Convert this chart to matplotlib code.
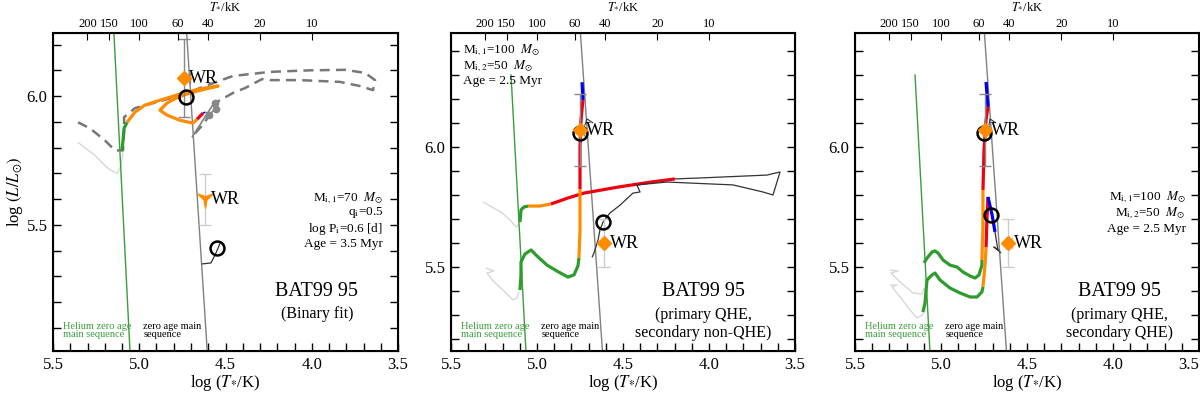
## BAT99 95 : HRD with binary evolution tracks (3 panels)
import numpy as np
import matplotlib
matplotlib.use("Agg")
import matplotlib.pyplot as plt
from matplotlib.ticker import MultipleLocator
from matplotlib.path import Path

plt.rcParams['font.family'] = ['Liberation Serif', 'DejaVu Serif']
plt.rcParams['mathtext.fontset'] = 'stix'

# ---- axes ranges / ticks
y_lims = [(5.01, 6.245), (5.15, 6.475), (5.15, 6.475)]
x_major = [5.5, 5.0, 4.5, 4.0, 3.5]
top_T = [200, 150, 100, 60, 40, 20, 10]   # kK

# ---- zero age main sequences (same in every panel)
he_zams_x = [5.151, 5.053]
he_zams_y = [6.30, 5.00]
h_zams_x = [4.750, 4.605]
h_zams_y = [6.50, 5.00]

# ================= panel 1 (binary fit)
p1_dash_x = [5.355, 5.286, 5.199, 5.141, 5.094, 5.088, 5.088, 5.025, 4.880, 4.735, 4.619, 4.457,
             4.242, 4.010, 3.807, 3.691, 3.633, 3.645, 3.720, 3.836, 4.068, 4.242, 4.288, 4.387,
             4.457, 4.561, 4.619, 4.677]
p1_dash_y = [5.898, 5.875, 5.828, 5.789, 5.789, 5.867, 5.918, 5.953, 5.980, 6.008, 6.039, 6.078,
             6.094, 6.100, 6.102, 6.090, 6.062, 6.023, 6.039, 6.055, 6.062, 6.062, 6.066, 6.031,
             6.012, 5.973, 5.898, 5.855]
p1_lgray_x = [5.355, 5.257, 5.181, 5.129, 5.106, 5.094]
p1_lgray_y = [5.820, 5.770, 5.719, 5.699, 5.730, 5.781]
p1_green_x = [5.100, 5.094, 5.088, 5.071]
p1_green_y = [5.789, 5.828, 5.875, 5.898]
p1_orange_x = [5.071, 5.025, 4.967, 4.880, 4.723, 4.619, 4.543, 4.619, 4.706, 4.775, 4.839, 4.880,
               4.839, 4.764, 4.688, 4.665]
p1_orange_y = [5.898, 5.9375, 5.965, 5.984, 6.016, 6.031, 6.039, 6.027, 6.012, 5.996, 5.973, 5.945,
               5.926, 5.906, 5.895, 5.910]
p1_red_x = [4.665, 4.648, 4.630]
p1_red_y = [5.910, 5.922, 5.934]
p1_blue_x = [4.630, 4.619]
p1_blue_y = [5.934, 5.9375]
p1_dgray_x = [4.694, 4.567, 4.555, 4.590, 4.619]
p1_dgray_y = [5.840, 5.973, 5.953, 5.930, 5.9375]
p1_dots_x = [4.563, 4.555, 4.598]
p1_dots_y = [5.975, 5.950, 5.928]
p1_hook_x = [4.638, 4.584, 4.555, 4.526]
p1_hook_y = [5.348, 5.352, 5.391, 5.4375]
p1_wr1 = (4.741, 6.070)
p1_circ1 = (4.729, 5.996)
p1_wr2 = (4.619, 5.598)
p1_circ2 = (4.549, 5.410)

# ================= panel 2 (primary QHE, secondary non-QHE)
p2_lgray1_x = [5.314, 5.273, 5.209, 5.157, 5.122, 5.099]
p2_lgray1_y = [5.771, 5.754, 5.729, 5.696, 5.667, 5.679]
p2_lgray2_x = [5.297, 5.250, 5.291, 5.256, 5.198, 5.140, 5.116, 5.105]
p2_lgray2_y = [5.496, 5.483, 5.475, 5.442, 5.404, 5.3625, 5.371, 5.396]
p2_a_green_x = [5.099, 5.093, 5.076, 5.052]
p2_a_green_y = [5.6875, 5.7375, 5.750, 5.754]
p2_a_orange_x = [5.052, 4.983, 4.919]
p2_a_orange_y = [5.754, 5.754, 5.7625]
p2_a_red_x = [4.919, 4.820, 4.727, 4.529, 4.337, 4.198]
p2_a_red_y = [5.7625, 5.7875, 5.808, 5.833, 5.854, 5.867]
p2_a_black_x = [4.198, 4.052, 3.663, 3.587, 3.610, 3.628, 3.686, 3.860, 4.244, 4.419, 4.401, 4.442,
                4.517, 4.576, 4.616, 4.634, 4.645, 4.669, 4.680]
p2_a_black_y = [5.867, 5.871, 5.883, 5.896, 5.842, 5.800, 5.8125, 5.842, 5.854, 5.842, 5.8125, 5.808,
                5.758, 5.725, 5.6875, 5.654, 5.6125, 5.558, 5.540]
p2_b_green_x = [5.099, 5.093, 5.093, 5.070, 5.035, 5.000, 4.942, 4.884, 4.820, 4.785, 4.762, 4.756]
p2_b_green_y = [5.404, 5.467, 5.521, 5.554, 5.571, 5.546, 5.508, 5.483, 5.458, 5.467, 5.504, 5.5375]
p2_b_orange_x = [4.756, 4.750, 4.750]
p2_b_orange_y = [5.5375, 5.654, 5.825]
p2_b_red_x = [4.750, 4.750, 4.744, 4.733]
p2_b_red_y = [5.825, 6.000, 6.1125, 6.196]
p2_b_blue_x = [4.733, 4.738]
p2_b_blue_y = [6.196, 6.270]
p2_tick_x = [4.721, 4.709, 4.674]
p2_tick_y = [6.092, 6.117, 6.100]
p2_wr1 = (4.750, 6.070)
p2_circ1 = (4.750, 6.058)
p2_wr2 = (4.610, 5.600)
p2_circ2 = (4.616, 5.6875)

# ================= panel 3 (primary QHE, secondary QHE)
p3_lgray1_x = [5.297, 5.250, 5.291, 5.238, 5.163, 5.110, 5.099]
p3_lgray1_y = [5.4875, 5.483, 5.475, 5.4375, 5.392, 5.3875, 5.4125]
p3_lgray2_x = [5.297, 5.256, 5.285, 5.238, 5.180, 5.140, 5.110, 5.099]
p3_lgray2_y = [5.425, 5.425, 5.417, 5.375, 5.321, 5.2875, 5.300, 5.3125]
p3_a_green_x = [5.099, 5.081, 5.052, 5.035, 5.017, 4.988, 4.948, 4.907, 4.872, 4.831, 4.802, 4.779,
                4.762, 4.762]
p3_a_green_y = [5.517, 5.5375, 5.5625, 5.567, 5.558, 5.529, 5.508, 5.500, 5.479, 5.4625, 5.454, 5.467,
                5.508, 5.529]
p3_a_orange_x = [4.762, 4.756, 4.756]
p3_a_orange_y = [5.529, 5.675, 5.821]
p3_a_red_x = [4.756, 4.750, 4.738, 4.727]
p3_a_red_y = [5.821, 5.9875, 6.1125, 6.167]
p3_a_blue_x = [4.727, 4.738]
p3_a_blue_y = [6.167, 6.271]
p3_b_green_x = [5.105, 5.093, 5.087, 5.081, 5.052, 5.035, 5.006, 4.948, 4.890, 4.831, 4.791, 4.762,
                4.756]
p3_b_green_y = [5.3125, 5.350, 5.404, 5.446, 5.467, 5.475, 5.446, 5.4125, 5.392, 5.375, 5.375, 5.396,
                5.417]
p3_b_orange_x = [4.756, 4.744, 4.738]
p3_b_orange_y = [5.417, 5.508, 5.583]
p3_b_red_x = [4.738, 4.733, 4.727]
p3_b_red_y = [5.583, 5.696, 5.792]
p3_b_blue_x = [4.727, 4.703, 4.686]
p3_b_blue_y = [5.792, 5.717, 5.646]
p3_b_black_x = [4.686, 4.669, 4.692, 4.669, 4.651]
p3_b_black_y = [5.646, 5.571, 5.583, 5.571, 5.558]
p3_tick_x = [4.721, 4.715, 4.680]
p3_tick_y = [6.092, 6.117, 6.100]
p3_wr1 = (4.744, 6.070)
p3_circ1 = (4.750, 6.058)
p3_wr2 = (4.610, 5.600)
p3_circ2 = (4.710, 5.715)

# ---- texts
param_texts = [
    [r'M$_{\rm i,1}$=70  $M_{\odot}$', r'q$_{\rm i}$=0.5', r'log P$_{\rm i}$=0.6 [d]', 'Age = 3.5 Myr'],
    [r'M$_{\rm i,1}$=100  $M_{\odot}$', r'M$_{\rm i,2}$=50  $M_{\odot}$', 'Age = 2.5 Myr'],
    [r'M$_{\rm i,1}$=100  $M_{\odot}$', r'M$_{\rm i,2}$=50  $M_{\odot}$', 'Age = 2.5 Myr'],
]
subtitles = ['(Binary fit)', '(primary QHE,\nsecondary non-QHE)', '(primary QHE,\nsecondary QHE)']

GREEN = '#2e9b2e'
ORANGE = '#ff8c00'
RED = '#ee0010'
BLUE = '#0000f0'
LW = 2.3

# concave down-pointing marker
tri_verts = [(-1, 0.85), (0, 0.5), (1, 0.85), (0.18, 0.05), (0, -1), (-0.18, 0.05), (-1, 0.85)]
tri_marker = Path(tri_verts, [Path.MOVETO] + [Path.LINETO] * 5 + [Path.CLOSEPOLY])

fig = plt.figure(figsize=(12, 3.95), dpi=100)
boxes = [[53 / 1200, 44 / 395, 345 / 1200, 318 / 395],
         [451 / 1200, 44 / 395, 344 / 1200, 318 / 395],
         [855 / 1200, 44 / 395, 344 / 1200, 318 / 395]]
axes = [fig.add_axes(b) for b in boxes]


def track(ax, x, y, c, lw=LW, z=3, **kw):
    ax.plot(x, y, color=c, lw=lw, zorder=z, solid_capstyle='butt', **kw)


def wr_point(ax, pos, marker, yerr, xerr, ecolor, ms=8):
    if xerr is None:
        ax.errorbar(pos[0], pos[1], yerr=yerr, fmt='none', ecolor=ecolor, elinewidth=1, capsize=4, zorder=4)
    else:
        ax.errorbar(pos[0], pos[1], yerr=yerr, xerr=xerr, fmt='none', ecolor=ecolor, elinewidth=1,
                    capsize=4, zorder=4)
    ax.plot(pos[0], pos[1], marker=marker, color=ORANGE, ms=ms, mec=ORANGE, ls='none', zorder=7)
    ax.annotate('WR', pos, xytext=(4, 0), textcoords='offset points', ha='left', va='center',
                fontsize=13, zorder=8)


def circ(ax, pos):
    ax.plot(pos[0], pos[1], 'o', mfc='none', mec='black', mew=1.8, ms=10, zorder=6)


for i, ax in enumerate(axes):
    ax.set_xlim(5.5, 3.5)
    ax.set_ylim(*y_lims[i])
    ax.set_xticks(x_major)
    ax.set_xticklabels(['%.1f' % v for v in x_major])
    ax.xaxis.set_minor_locator(MultipleLocator(0.1))
    ax.yaxis.set_major_locator(MultipleLocator(0.5))
    ax.yaxis.set_minor_locator(MultipleLocator(0.1))
    ax.yaxis.set_major_formatter(plt.FormatStrFormatter('%.1f'))
    ax.tick_params(which='both', direction='in', right=True, top=False, length=6, width=1,
                   labelsize=12, pad=4)
    for s in ax.spines.values():
        s.set_linewidth(1.5)
    ax.set_xlabel(r'log ($T_{*}$/K)', fontsize=12, labelpad=0)

    # top axis with T in kK
    axt = ax.twiny()
    axt.set_xlim(ax.get_xlim())
    axt.set_xticks(np.log10(np.array(top_T) * 1e3))
    axt.set_xticklabels([str(t) for t in top_T])
    axt.tick_params(direction='in', length=5, width=0.8, labelsize=9, pad=2)
    axt.set_xlabel(r'$T_{*}$/kK', fontsize=9, labelpad=6)

    # ZAMS lines
    ax.plot(he_zams_x, he_zams_y, color='#3a9d3a', lw=1.0, zorder=2)
    ax.plot(h_zams_x, h_zams_y, color='#808080', lw=1.0, zorder=2)

    # ZAMS labels
    ax.text(0.029, 0.063, 'Helium zero age\nmain sequence', color='#3a9d3a', fontsize=7.5,
            transform=ax.transAxes, va='center', ha='left', linespacing=0.85)
    ax.text(0.262, 0.063, 'zero age main\nsequence', color='black', fontsize=7.5,
            transform=ax.transAxes, va='center', ha='left', linespacing=0.85)

    # name + subtitle
    xc = [0.765, 0.733, 0.770][i]
    ax.text(xc, 0.186, 'BAT99 95', fontsize=14.5, transform=ax.transAxes, ha='center', va='center')
    ax.text(xc, [0.116, 0.085, 0.085][i], subtitles[i], fontsize=11.5, transform=ax.transAxes,
            ha='center', va='center', linespacing=1.15)

# last bottom label of the right panel kept inside the figure
axes[2].xaxis.get_major_ticks()[-1].label1.set_horizontalalignment('right')

axes[0].set_ylabel(r'log $(L/L_{\odot})$', fontsize=12, labelpad=1)

# parameter texts
for j, t in enumerate(param_texts[0]):
    axes[0].text(0.957, [0.481, 0.434, 0.384, 0.336][j], t, transform=axes[0].transAxes,
                 ha='right', va='center', fontsize=9.5)
for j, t in enumerate(param_texts[1]):
    axes[1].text(0.035, [0.947, 0.895, 0.848][j], t, transform=axes[1].transAxes,
                 ha='left', va='center', fontsize=9.5)
for j, t in enumerate(param_texts[2]):
    axes[2].text(0.962, [0.484, 0.434, 0.384][j], t, transform=axes[2].transAxes,
                 ha='right', va='center', fontsize=9.5)

# ---- panel 1
ax = axes[0]
ax.plot(p1_dash_x, p1_dash_y, color='#777777', lw=1.8, ls=(0, (4, 2.5)), zorder=2)
track(ax, p1_lgray_x, p1_lgray_y, '#d8d8d8', lw=1.0, z=1)
track(ax, p1_green_x, p1_green_y, GREEN)
track(ax, p1_orange_x, p1_orange_y, ORANGE)
track(ax, p1_red_x, p1_red_y, RED)
track(ax, p1_blue_x, p1_blue_y, BLUE, lw=1.2)
track(ax, p1_dgray_x, p1_dgray_y, '#808080', lw=1.2, z=2)
ax.plot(p1_dots_x, p1_dots_y, 'o', color='#888888', ms=4.5, zorder=3)
track(ax, p1_hook_x, p1_hook_y, '#333333', lw=0.9)
wr_point(ax, p1_wr1, 'D', 0.153, [[0.035], [0.0]], '#888888', ms=7)
circ(ax, p1_circ1)
wr_point(ax, p1_wr2, tri_marker, 0.10, None, '#cccccc', ms=11)
circ(ax, p1_circ2)

# ---- panel 2
ax = axes[1]
track(ax, p2_lgray1_x, p2_lgray1_y, '#d8d8d8', lw=1.0, z=1)
track(ax, p2_lgray2_x, p2_lgray2_y, '#d8d8d8', lw=1.0, z=1)
track(ax, p2_a_green_x, p2_a_green_y, GREEN)
track(ax, p2_a_orange_x, p2_a_orange_y, ORANGE)
track(ax, p2_a_red_x, p2_a_red_y, RED)
track(ax, p2_a_black_x, p2_a_black_y, '#333333', lw=0.9)
track(ax, p2_b_green_x, p2_b_green_y, GREEN)
track(ax, p2_b_orange_x, p2_b_orange_y, ORANGE)
track(ax, p2_b_red_x, p2_b_red_y, RED)
track(ax, p2_b_blue_x, p2_b_blue_y, BLUE)
track(ax, p2_tick_x, p2_tick_y, '#333333', lw=0.8)
circ(ax, p2_circ1)
wr_point(ax, p2_wr1, 'D', 0.15, [[0.025], [0.0]], '#888888', ms=7)
circ(ax, p2_circ2)
wr_point(ax, p2_wr2, 'D', 0.10, None, '#cccccc', ms=7)

# ---- panel 3
ax = axes[2]
track(ax, p3_lgray1_x, p3_lgray1_y, '#d8d8d8', lw=1.0, z=1)
track(ax, p3_lgray2_x, p3_lgray2_y, '#d8d8d8', lw=1.0, z=1)
track(ax, p3_a_green_x, p3_a_green_y, GREEN)
track(ax, p3_a_orange_x, p3_a_orange_y, ORANGE)
track(ax, p3_a_red_x, p3_a_red_y, RED)
track(ax, p3_a_blue_x, p3_a_blue_y, BLUE)
track(ax, p3_b_green_x, p3_b_green_y, GREEN)
track(ax, p3_b_orange_x, p3_b_orange_y, ORANGE)
track(ax, p3_b_red_x, p3_b_red_y, RED)
track(ax, p3_b_blue_x, p3_b_blue_y, BLUE)
track(ax, p3_b_black_x, p3_b_black_y, '#333333', lw=0.9)
track(ax, p3_tick_x, p3_tick_y, '#333333', lw=0.8)
circ(ax, p3_circ1)
wr_point(ax, p3_wr1, 'D', 0.15, [[0.025], [0.0]], '#888888', ms=7)
circ(ax, p3_circ2)
wr_point(ax, p3_wr2, 'D', 0.10, [[0.025], [0.0]], '#cccccc', ms=7)

fig.savefig('out.png', dpi=100)
